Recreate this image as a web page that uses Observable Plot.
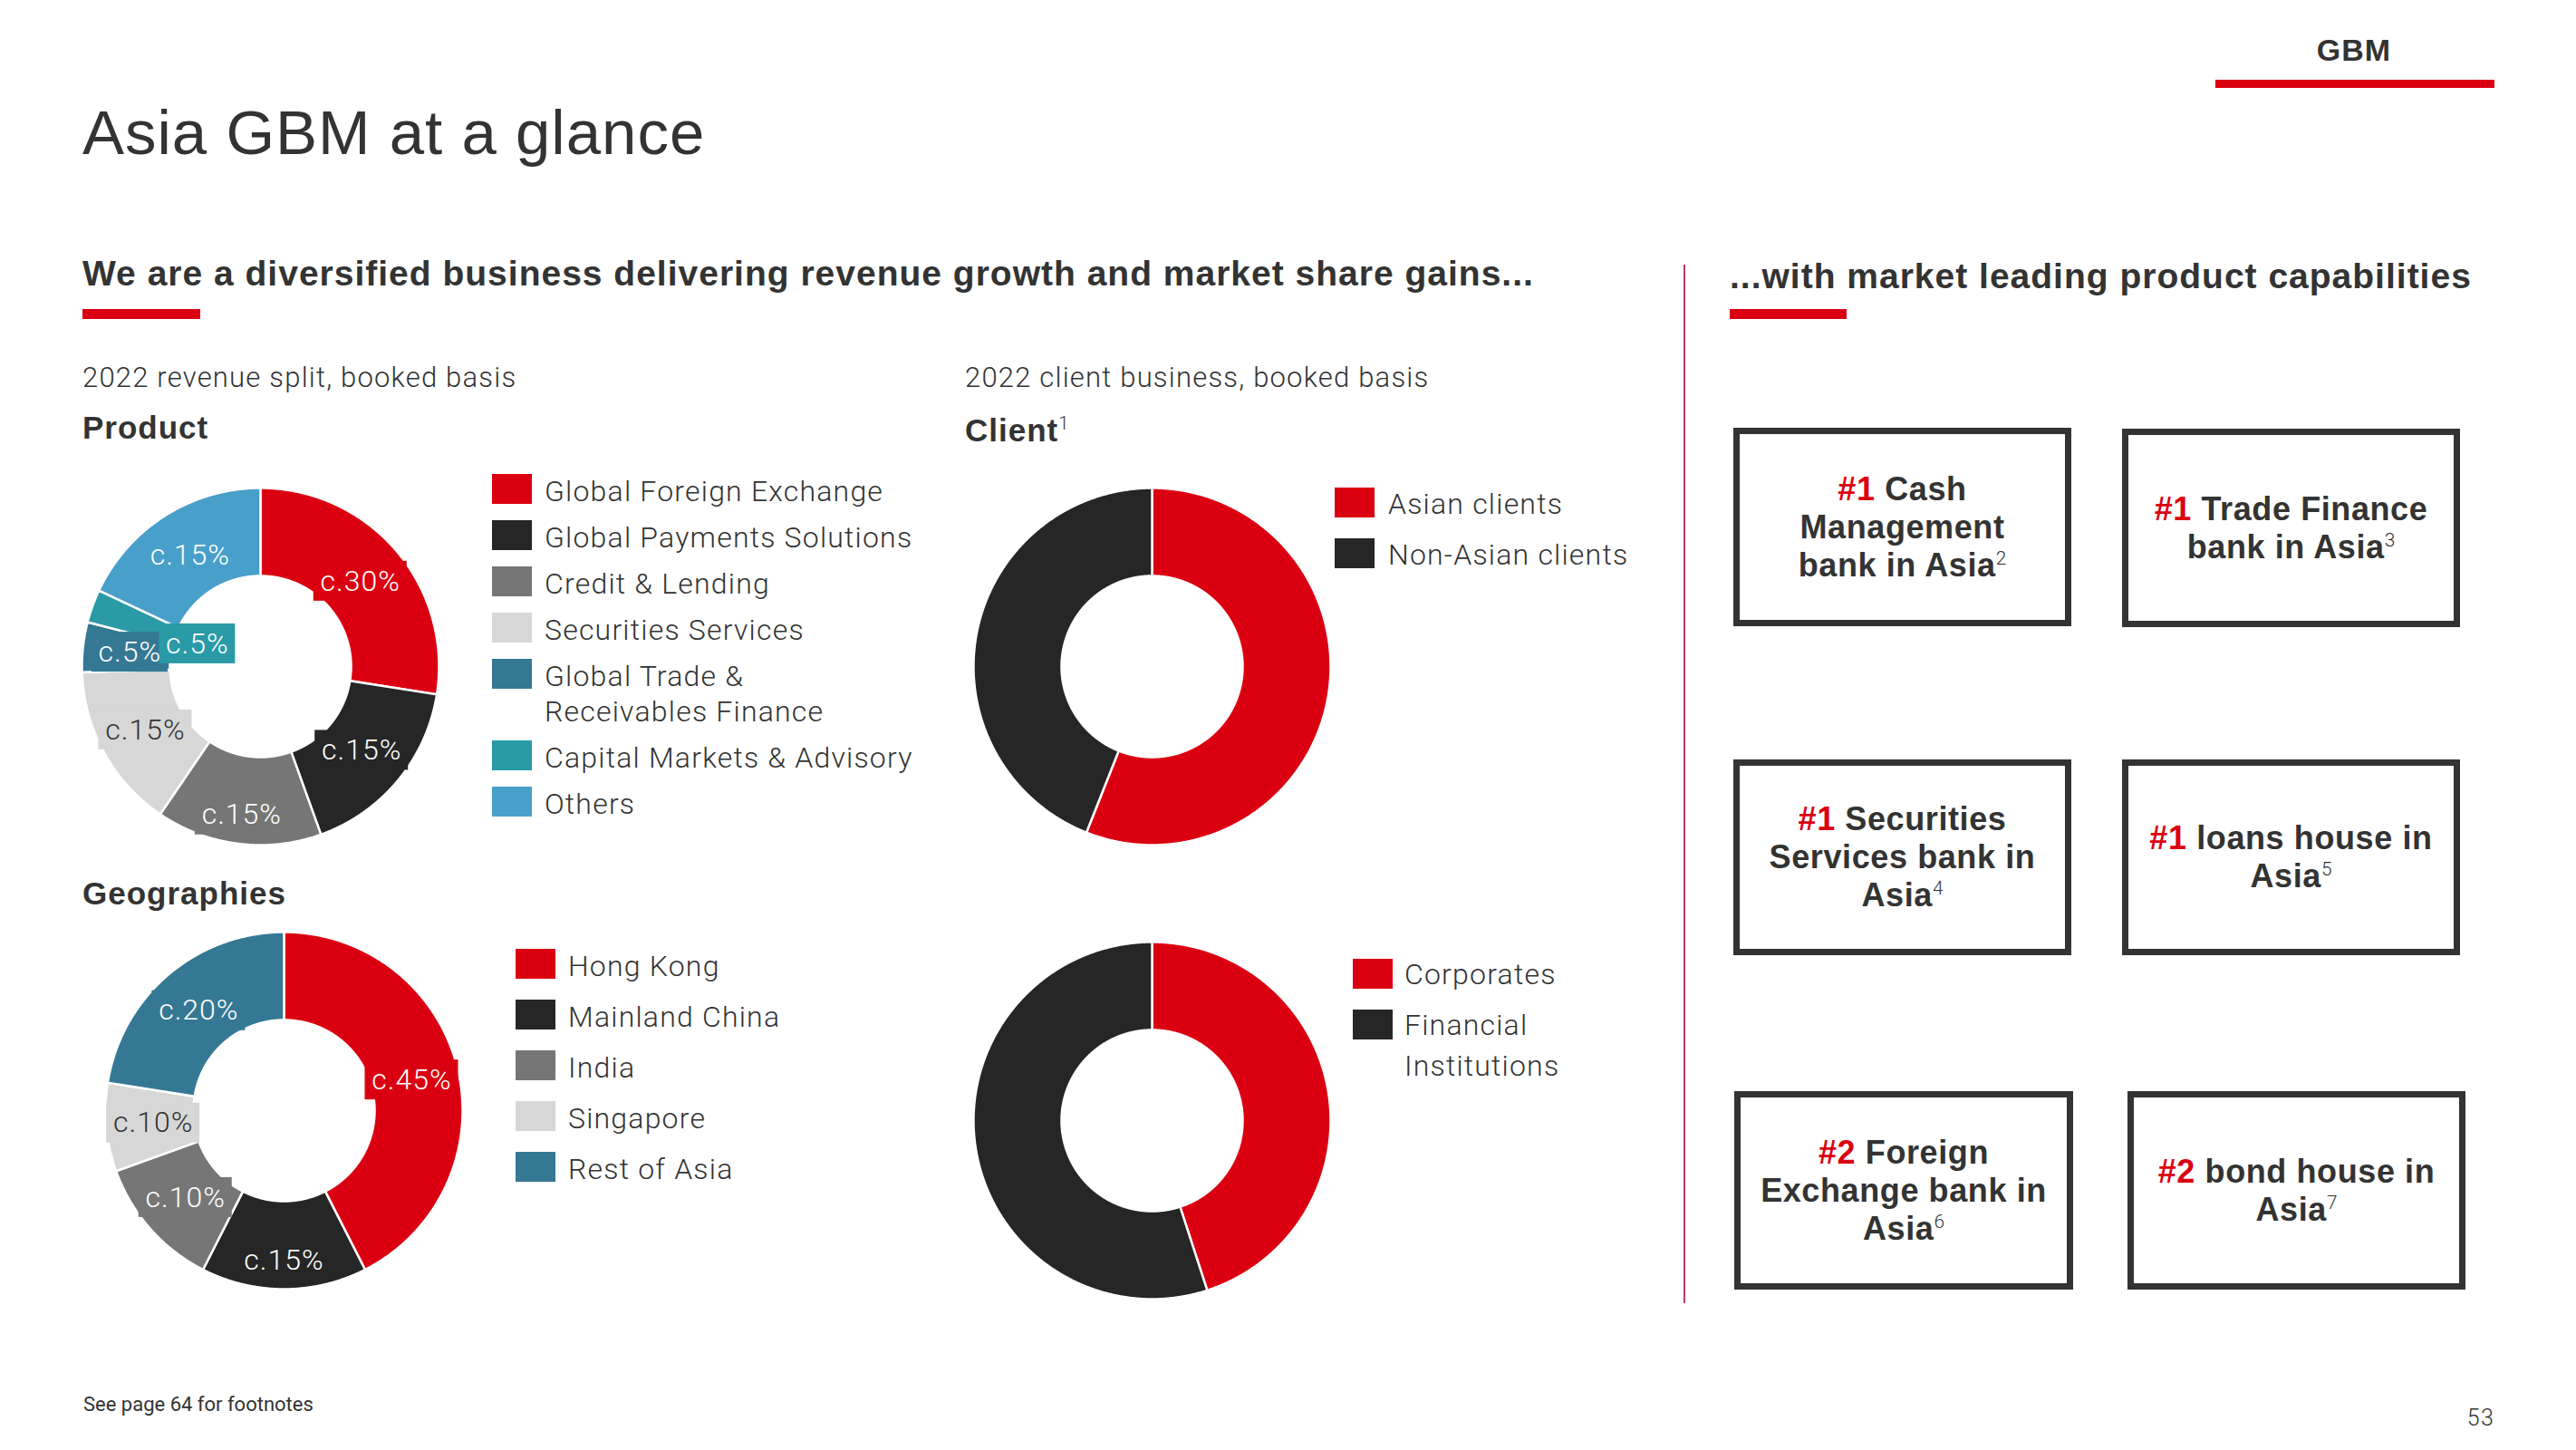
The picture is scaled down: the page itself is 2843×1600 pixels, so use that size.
<!DOCTYPE html>
<html><head><meta charset="utf-8">
<script src="https://cdn.jsdelivr.net/npm/d3@7"></script>
<script src="https://cdn.jsdelivr.net/npm/@observablehq/plot@0.6"></script>
<style>
html,body{margin:0;padding:0;background:#fff;}
#page{position:relative;width:2843px;height:1600px;overflow:hidden;font-family:Roboto,"Noto Sans",sans-serif;color:#333;}
.t{position:absolute;white-space:pre;line-height:1;}
.bold{font-family:"Liberation Sans",Arial,sans-serif;font-weight:700;letter-spacing:1px;}
.reg{font-family:"Liberation Sans",Arial,sans-serif;font-weight:400;letter-spacing:1px;}
.light{font-family:Roboto,sans-serif;font-weight:300;letter-spacing:1.2px;}
.bar{position:absolute;background:#db0011;}
.sw{position:absolute;width:44px;height:33px;}
.box{position:absolute;box-sizing:border-box;border:7px solid #333;display:flex;align-items:center;justify-content:center;text-align:center;font-family:"Liberation Sans",Arial,sans-serif;font-weight:700;font-size:36px;letter-spacing:0.6px;line-height:42px;color:#333;}
.hl{color:#db0011}
sup{font-family:Roboto,sans-serif;font-weight:300;font-size:0.58em;vertical-align:0.62em;line-height:0;letter-spacing:0}
#page svg{background:transparent !important;max-width:none !important;}
#page svg text{letter-spacing:1px;}
</style></head><body><div id="page"></div>
<script>
// ---------- data ----------
const productCategories = ["Global Foreign Exchange", "Global Payments Solutions", "Credit & Lending", "Securities Services", "Global Trade &\nReceivables Finance", "Capital Markets & Advisory", "Others"];
const productValues = [27.5, 17, 15, 15, 4.5, 3, 18];
const productLabels = ["c.30%", "c.15%", "c.15%", "c.15%", "c.5%", "c.5%", "c.15%"];

const geoCategories = ["Hong Kong", "Mainland China", "India", "Singapore", "Rest of Asia"];
const geoValues = [42.5, 15, 12, 8, 22.5];
const geoLabels = ["c.45%", "c.15%", "c.10%", "c.10%", "c.20%"];

const clientRegionCategories = ["Asian clients", "Non-Asian clients"];
const clientRegionValues = [56, 44];

const clientTypeCategories = ["Corporates", "Financial\nInstitutions"];
const clientTypeValues = [45, 55];

const capabilityRanks = ["#1", "#1", "#1", "#1", "#2", "#2"];
const capabilityTexts = [
  " Cash<br>Management<br>bank in Asia<sup>2</sup>",
  " Trade Finance<br>bank in Asia<sup>3</sup>",
  " Securities<br>Services bank in<br>Asia<sup>4</sup>",
  " loans house in<br>Asia<sup>5</sup>",
  " Foreign<br>Exchange bank in<br>Asia<sup>6</sup>",
  " bond house in<br>Asia<sup>7</sup>"
];

// ---------- styles ----------
const RED = "#db0011", DARK = "#262626", GREY = "#767676", LIGHT = "#d7d7d7";
const productColors = [RED, DARK, GREY, LIGHT, "#357893", "#2a9aa6", "#489fca"];
const geoColors = [RED, DARK, GREY, LIGHT, "#357893"];
const clientColors = [RED, DARK];

const page = document.getElementById("page");

function text(html, x, baseline, fs, cls, opts = {}) {
  const d = document.createElement("div");
  d.className = "t " + (cls || "");
  d.innerHTML = html;
  d.style.fontSize = fs + "px";
  d.style.top = (baseline - 0.845 * fs) + "px";
  if (opts.right != null) d.style.right = opts.right + "px";
  else if (opts.center) { d.style.left = x + "px"; d.style.transform = "translateX(-50%)"; }
  else d.style.left = x + "px";
  if (opts.color) d.style.color = opts.color;
  page.append(d);
  return d;
}
function rect(x, y, w, h, color) {
  const d = document.createElement("div");
  d.className = "bar";
  Object.assign(d.style, {left: x + "px", top: y + "px", width: w + "px", height: h + "px"});
  if (color) d.style.background = color;
  page.append(d);
}

// ---------- donuts ----------
const R = 197, RI = 100, PAD = 6, S = R + PAD;
function donut(cats, values, colors, labels, cx, cy) {
  const rows = cats.map((c, i) => ({cat: c, value: values[i], color: colors[i], label: labels ? labels[i] : null}));
  const total = d3.sum(values);
  const arcs = d3.pie().sort(null).value(d => d.value)(rows);
  const pts = [];
  const step = Math.PI / 720;
  for (const a of arcs) {
    const n = Math.max(2, Math.ceil((a.endAngle - a.startAngle) / step));
    for (let k = 0; k <= n; k++) {
      const t = a.startAngle + (a.endAngle - a.startAngle) * k / n;
      pts.push({cat: a.data.cat, color: a.data.color, x: R * Math.sin(t), y: R * Math.cos(t)});
    }
    for (let k = n; k >= 0; k--) {
      const t = a.startAngle + (a.endAngle - a.startAngle) * k / n;
      pts.push({cat: a.data.cat, color: a.data.color, x: RI * Math.sin(t), y: RI * Math.cos(t)});
    }
  }
  const marks = [Plot.line(pts, {x: "x", y: "y", z: "cat", fill: "color", stroke: "#fff", strokeWidth: 2.5, curve: "linear-closed"})];
  if (labels) {
    const lab = arcs.map(a => {
      const mid = (a.startAngle + a.endAngle) / 2;
      const share = a.data.value / total;
      const lr = share < 0.04 ? 74 : (Math.abs(mid - Math.PI) < 0.35 ? 165 : 145);
      return {x: lr * Math.sin(mid), y: lr * Math.cos(mid), label: a.data.label, color: a.data.color,
              w: a.data.label.length * 19 + 8, tc: a.data.color === LIGHT ? "#333" : "#fff"};
    });
    marks.push(Plot.rect(lab, {x1: d => d.x - d.w / 2, x2: d => d.x + d.w / 2, y1: d => d.y - 22, y2: d => d.y + 22, fill: "color"}));
    marks.push(Plot.text(lab, {x: "x", y: "y", text: "label", fill: "tc", fontSize: 32, fontWeight: 300, fontFamily: "Roboto"}));
  }
  const svg = Plot.plot({
    width: 2 * S, height: 2 * S, margin: 0,
    x: {domain: [-S, S], axis: null}, y: {domain: [-S, S], axis: null},
    color: {type: "identity"},
    marks
  });
  svg.style.position = "absolute";
  svg.style.left = (cx - S) + "px";
  svg.style.top = (cy - S) + "px";
  page.append(svg);
}

function legend(cats, colors, x, y, textX, rowGap, lineH, baseOff) {
  let top = y;
  cats.forEach((c, i) => {
    const s = document.createElement("div");
    s.className = "sw";
    Object.assign(s.style, {left: x + "px", top: top + "px", background: colors[i]});
    page.append(s);
    const lines = c.split("\n");
    lines.forEach((ln, k) => text(ln, textX, top + baseOff + k * lineH, 32, "light"));
    top += rowGap + (lines.length - 1) * lineH;
  });
}

// header
text("GBM", 2598, 67, 34, "bold", {center: true});
rect(2445, 88, 308, 9);
text("Asia GBM at a glance", 91, 170, 69, "reg");
text("We are a diversified business delivering revenue growth and market share gains...", 91, 315, 39, "bold");
rect(91, 341, 130, 11);
text("...with market leading product capabilities", 1909, 318, 39, "bold");
rect(1909, 341, 129, 11);
rect(1858, 292, 2, 1146, "#b83a5c");

// left section
text("2022 revenue split, booked basis", 91, 427, 31, "light");
text("Product", 91, 484, 35, "bold");
text("Geographies", 91, 998, 35, "bold");
text("2022 client business, booked basis", 1065, 427, 31, "light");
text("Client<sup>1</sup>", 1065, 487, 35, "bold");

donut(productCategories, productValues, productColors, productLabels, 287, 735);
legend(productCategories, productColors, 543, 523, 601, 51, 39, 30);

donut(geoCategories, geoValues, geoColors, geoLabels, 313, 1225);
legend(geoCategories, geoColors, 569, 1047, 627, 56, 39, 30);

donut(clientRegionCategories, clientRegionValues, clientColors, null, 1271, 735);
legend(clientRegionCategories, clientColors, 1473, 538, 1532, 56, 45, 29);

donut(clientTypeCategories, clientTypeValues, clientColors, null, 1271, 1236);
legend(clientTypeCategories, clientColors, 1493, 1058, 1550, 56, 45, 28);

// capability boxes
const boxPos = [[1913, 472, 373, 219], [2342, 473, 373, 219], [1913, 838, 373, 216], [2342, 838, 373, 216], [1914, 1204, 374, 219], [2348, 1204, 373, 219]];
capabilityTexts.forEach((t, i) => {
  const [x, y, w, h] = boxPos[i];
  const b = document.createElement("div");
  b.className = "box";
  Object.assign(b.style, {left: x + "px", top: y + "px", width: w + "px", height: h + "px"});
  b.innerHTML = `<div><span class="hl">${capabilityRanks[i]}</span>${t}</div>`;
  page.append(b);
});

// footer
text("See page 64 for footnotes", 92, 1558, 22, "");
text("53", 0, 1573, 25, "light", {right: 90});
</script></body></html>
